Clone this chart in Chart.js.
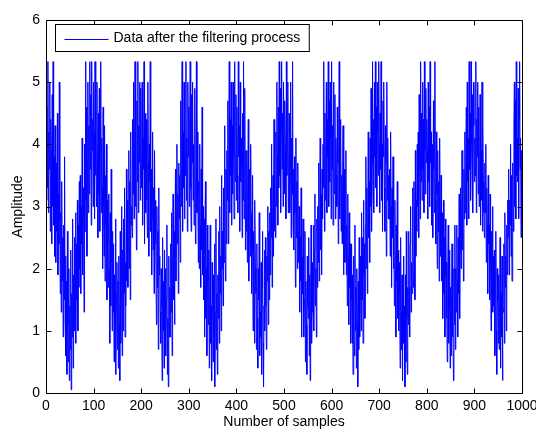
<!DOCTYPE html>
<html>
<head>
<meta charset="utf-8">
<script src="https://cdn.jsdelivr.net/npm/chart.js@4.4.1/dist/chart.umd.min.js"></script>
<style>
  html, body { margin: 0; padding: 0; background: #fff; }
  canvas { display: block; }
</style>
</head>
<body>
<canvas id="signalChart" width="536" height="431"></canvas>
<script>
// samples 1-100, 101-200, ... (rough estimates)
const block1 = [
  3.1, 4.6, 3.3, 5.33, 2.9, 4.2, 3.6, 5.0, 2.6, 4.4,
  3.9, 2.4, 4.8, 3.0, 5.33, 2.7, 3.8, 2.2, 4.3, 3.4,
  2.1, 3.7, 2.6, 4.5, 1.9, 3.2, 2.4, 5.0, 2.8, 1.6,
  2.9, 1.3, 3.4, 1.8, 2.5, 0.9, 2.7, 1.5, 3.8, 1.2,
  2.2, 0.6, 1.8, 0.3, 2.6, 1.1, 0.5, 2.0, 0.2, 1.4,
  0.7, 2.3, 0.05, 1.6, 0.9, 2.8, 0.4, 1.9, 1.0, 2.5,
  1.2, 2.9, 0.8, 2.4, 1.5, 3.1, 1.0, 2.7, 1.7, 3.4,
  2.0, 3.5, 1.6, 3.0, 2.4, 4.1, 1.9, 3.3, 2.8, 1.3,
  4.0, 2.6, 5.33, 3.1, 4.6, 2.2, 3.7, 5.0, 2.9, 4.3,
  3.2, 5.33, 3.6, 4.8, 2.7, 5.33, 3.9, 4.4, 3.0, 5.0
];
const block2 = [
  4.2, 2.8, 5.33, 3.5, 4.7, 3.0, 5.0, 3.8, 2.5, 4.5,
  3.2, 4.9, 2.6, 3.9, 5.33, 2.9, 4.1, 3.3, 2.0, 4.6,
  3.0, 2.2, 4.3, 1.8, 3.5, 2.7, 4.0, 1.5, 3.1, 2.4,
  1.7, 3.2, 2.0, 0.8, 2.9, 1.4, 3.6, 2.1, 1.0, 2.6,
  1.3, 2.4, 0.5, 1.9, 0.9, 2.8, 0.3, 1.6, 2.1, 0.7,
  1.8, 0.4, 2.2, 1.1, 0.2, 2.6, 0.8, 1.5, 3.0, 0.6,
  2.3, 1.0, 2.8, 1.6, 3.3, 0.9, 2.1, 1.4, 3.6, 1.8,
  3.1, 1.7, 2.5, 3.9, 2.0, 3.4, 1.5, 4.2, 2.7, 3.0,
  2.5, 4.4, 3.2, 5.0, 2.8, 3.9, 5.33, 3.0, 4.1, 2.3,
  4.7, 3.4, 5.33, 2.9, 4.3, 3.7, 5.0, 3.1, 4.9, 3.6
];
const block3 = [
  3.3, 5.0, 2.7, 4.1, 3.6, 5.33, 2.4, 4.5, 3.9, 2.9,
  4.4, 3.1, 2.5, 5.0, 3.7, 2.2, 4.0, 3.4, 5.33, 2.6,
  3.6, 1.9, 2.8, 4.2, 2.3, 3.3, 1.6, 3.9, 2.5, 3.1,
  2.4, 1.1, 3.0, 1.7, 2.6, 0.7, 3.3, 1.9, 2.2, 1.3,
  0.8, 2.0, 1.4, 0.2, 2.5, 1.0, 1.8, 0.4, 2.3, 1.2,
  2.0, 0.6, 1.5, 2.7, 0.3, 1.2, 0.1, 2.2, 0.9, 1.7,
  0.9, 2.4, 1.3, 2.9, 0.6, 2.0, 3.2, 1.5, 2.6, 1.1,
  2.2, 3.6, 1.8, 2.9, 4.0, 2.4, 3.2, 1.6, 3.7, 2.8,
  3.5, 2.1, 4.7, 3.0, 3.9, 5.33, 2.6, 4.2, 3.3, 5.0,
  2.8, 4.5, 3.5, 5.33, 3.1, 4.1, 2.6, 5.0, 3.8, 4.6
];
const block4 = [
  3.0, 4.4, 5.33, 3.3, 2.6, 4.8, 3.7, 5.0, 3.1, 4.0,
  2.7, 3.8, 4.9, 2.4, 3.5, 5.33, 2.9, 4.2, 3.2, 2.1,
  3.4, 2.0, 4.0, 2.7, 1.7, 3.6, 2.3, 4.6, 1.9, 3.0,
  1.5, 2.8, 0.9, 2.4, 3.4, 1.2, 2.0, 0.6, 2.7, 1.8,
  1.1, 2.3, 0.4, 1.7, 2.7, 0.8, 1.4, 0.2, 2.1, 1.5,
  0.5, 1.9, 1.0, 2.4, 0.1, 1.3, 2.8, 0.7, 1.6, 0.3,
  1.9, 1.2, 2.6, 0.8, 3.0, 1.6, 2.2, 1.0, 3.5, 2.0,
  2.6, 1.4, 3.3, 2.1, 4.3, 2.9, 1.8, 3.6, 2.4, 3.9,
  3.1, 4.7, 2.4, 3.8, 5.33, 2.9, 4.4, 3.5, 5.0, 2.7,
  4.3, 3.2, 5.0, 3.9, 2.8, 5.33, 4.0, 3.4, 4.8, 3.1
];
const block5 = [
  4.6, 3.5, 2.9, 5.33, 3.8, 4.3, 2.6, 5.0, 3.4, 4.1,
  3.7, 2.5, 4.5, 3.1, 5.33, 2.8, 3.6, 4.9, 2.3, 3.9,
  2.6, 3.9, 2.1, 3.3, 4.4, 1.8, 2.9, 3.6, 2.2, 4.0,
  2.9, 1.6, 2.3, 3.5, 1.0, 2.6, 1.9, 0.8, 3.1, 2.0,
  1.6, 0.7, 2.4, 1.2, 0.4, 2.0, 1.5, 2.9, 0.6, 1.3,
  0.9, 2.1, 0.3, 1.7, 2.6, 0.8, 0.1, 1.4, 2.3, 1.0,
  2.5, 1.4, 0.7, 2.2, 1.8, 3.0, 1.1, 2.6, 1.5, 2.9,
  1.9, 3.3, 2.5, 4.0, 1.7, 2.8, 3.5, 2.2, 4.4, 2.6,
  3.6, 2.5, 4.2, 3.0, 5.0, 3.8, 2.7, 4.6, 3.3, 5.33,
  3.5, 4.9, 2.9, 4.2, 5.33, 3.6, 4.5, 3.0, 5.0, 3.9
];
const block6 = [
  3.2, 4.7, 3.9, 2.8, 5.33, 3.5, 4.2, 5.0, 2.9, 3.7,
  4.5, 2.9, 3.4, 5.0, 2.5, 4.1, 3.2, 5.33, 2.7, 3.6,
  2.3, 3.8, 2.9, 1.7, 4.1, 2.5, 3.4, 2.0, 3.7, 2.6,
  2.1, 3.0, 1.3, 2.5, 1.8, 3.3, 0.9, 2.2, 1.6, 2.8,
  2.0, 0.9, 1.5, 2.6, 0.5, 1.8, 1.1, 0.3, 2.2, 1.4,
  1.2, 2.5, 0.6, 1.9, 0.2, 1.5, 2.7, 0.8, 1.3, 2.1,
  1.5, 2.7, 1.0, 2.3, 3.2, 1.4, 2.0, 0.9, 2.8, 1.7,
  3.0, 2.1, 3.7, 1.8, 2.6, 4.1, 2.3, 3.2, 1.9, 3.6,
  2.8, 4.0, 3.3, 5.33, 2.6, 4.5, 3.1, 3.9, 5.0, 2.9,
  4.4, 3.8, 5.33, 3.0, 4.7, 3.4, 5.0, 4.1, 2.8, 5.33
];
const block7 = [
  3.6, 4.3, 2.7, 5.0, 3.9, 3.2, 4.8, 2.8, 4.1, 3.5,
  3.0, 4.6, 3.7, 2.4, 4.0, 5.33, 2.8, 3.5, 4.4, 2.6,
  3.5, 2.4, 3.1, 4.3, 1.9, 2.8, 3.6, 2.1, 2.7, 3.9,
  1.9, 2.7, 1.4, 3.2, 2.2, 1.1, 2.9, 1.7, 2.4, 0.8,
  1.5, 2.4, 0.8, 1.9, 0.3, 2.2, 1.2, 0.6, 2.7, 1.0,
  1.7, 0.4, 2.0, 1.1, 0.1, 1.8, 0.7, 2.5, 0.9, 1.5,
  2.2, 1.0, 2.9, 1.5, 2.5, 0.8, 3.1, 1.9, 2.4, 1.2,
  2.7, 3.8, 2.0, 3.3, 1.6, 2.9, 4.2, 2.5, 3.4, 2.1,
  4.1, 3.0, 4.9, 2.6, 3.7, 5.33, 3.2, 4.4, 2.9, 5.0,
  3.8, 5.33, 3.3, 4.6, 3.0, 5.0, 4.2, 3.5, 5.33, 4.0
];
const block8 = [
  2.9, 4.5, 3.6, 5.33, 3.1, 4.0, 2.6, 4.7, 3.8, 5.0,
  3.3, 2.6, 4.3, 3.7, 2.2, 5.0, 3.1, 4.1, 2.8, 3.5,
  2.8, 3.6, 2.2, 4.2, 3.0, 1.7, 3.3, 2.5, 3.8, 2.0,
  2.5, 1.4, 3.1, 2.0, 0.9, 2.7, 1.8, 3.4, 1.2, 2.3,
  1.0, 2.1, 1.6, 0.4, 2.5, 1.3, 0.7, 1.9, 0.2, 1.5,
  2.2, 0.8, 1.4, 0.1, 1.9, 0.5, 2.6, 1.2, 0.3, 1.7,
  1.1, 2.6, 1.7, 0.9, 2.4, 3.0, 1.3, 2.1, 1.6, 3.3,
  2.4, 1.7, 3.4, 2.8, 1.5, 3.9, 2.2, 3.1, 2.6, 4.0,
  3.0, 4.2, 2.5, 4.8, 3.6, 2.8, 5.33, 3.4, 4.5, 3.1,
  5.0, 3.6, 4.4, 2.9, 5.33, 3.9, 3.2, 4.9, 3.7, 4.4
];
const block9 = [
  3.9, 2.8, 5.0, 3.4, 4.6, 3.0, 5.33, 3.7, 4.2, 2.7,
  4.0, 3.3, 2.5, 4.7, 3.6, 2.9, 5.33, 3.1, 2.4, 4.2,
  3.2, 2.0, 3.9, 2.6, 3.4, 1.8, 4.1, 2.9, 2.2, 3.5,
  1.8, 2.9, 2.3, 1.2, 3.1, 1.6, 2.5, 0.9, 2.8, 1.9,
  2.1, 1.2, 0.5, 1.9, 2.7, 0.8, 1.4, 2.3, 0.4, 1.7,
  0.6, 1.6, 2.4, 0.9, 1.3, 0.2, 2.0, 1.1, 2.7, 0.7,
  2.0, 1.3, 2.7, 1.8, 0.9, 2.5, 1.6, 3.2, 1.2, 2.3,
  3.3, 2.0, 2.7, 3.9, 2.3, 3.1, 1.8, 3.6, 2.8, 4.2,
  2.9, 3.7, 4.6, 2.7, 5.0, 3.4, 4.1, 2.8, 5.33, 3.6,
  4.5, 3.1, 5.33, 4.0, 3.5, 4.8, 2.9, 5.0, 4.3, 3.4
];
const block10 = [
  4.1, 3.5, 5.33, 2.9, 4.4, 3.8, 5.0, 3.2, 4.6, 3.0,
  3.6, 4.8, 2.7, 3.9, 3.1, 5.0, 2.6, 4.3, 3.4, 2.9,
  2.5, 3.7, 2.9, 4.0, 2.1, 3.3, 2.7, 1.6, 3.5, 2.4,
  2.7, 1.5, 3.2, 2.1, 1.0, 2.6, 1.7, 3.0, 1.3, 2.2,
  1.4, 2.3, 0.6, 1.8, 2.6, 1.0, 0.3, 2.0, 1.5, 0.8,
  1.9, 0.7, 1.3, 2.5, 0.4, 1.6, 0.9, 2.2, 0.2, 1.4,
  1.3, 2.4, 0.8, 2.9, 1.7, 2.2, 1.0, 2.7, 1.9, 3.1,
  2.5, 3.6, 1.9, 3.1, 2.7, 4.0, 2.2, 3.5, 1.8, 3.2,
  3.7, 2.6, 4.3, 5.0, 3.0, 4.7, 2.8, 5.33, 3.5, 4.1,
  3.4, 4.9, 2.8, 4.4, 5.33, 3.6, 4.1, 2.5, 3.9, 3.8
];

const xTicks = [0, 100, 200, 300, 400, 500, 600, 700, 800, 900, 1000];
const yTicks = [0, 1, 2, 3, 4, 5, 6];
const seriesLabel = "Data after the filtering process";
const xTitle = "Number of samples";
const yTitle = "Amplitude";

const amplitude = [].concat(block1, block2, block3, block4, block5,
  block6, block7, block8, block9, block10);

const FONT = "Arial, 'Liberation Sans', sans-serif";
const LINE_COLOR = "#0000ff";
const TICK_LEN = 5;

// matlab style box: full frame, inward ticks on all sides, boxed legend
const matlabAxes = {
  id: "matlabAxes",
  afterDatasetsDraw(chart) {
    const { ctx, chartArea: a, scales } = chart;
    ctx.save();
    ctx.strokeStyle = "#000";
    ctx.lineWidth = 1;
    ctx.beginPath();
    const l = Math.round(a.left) + 0.5;
    const r = Math.round(a.right) + 0.5;
    const t = Math.round(a.top) + 0.5;
    const b = Math.round(a.bottom) + 0.5;
    ctx.rect(l, t, r - l, b - t);

    xTicks.forEach(v => {
      const x = Math.round(scales.x.getPixelForValue(v)) + 0.5;
      ctx.moveTo(x, b);
      ctx.lineTo(x, b - TICK_LEN);
      ctx.moveTo(x, t);
      ctx.lineTo(x, t + TICK_LEN);
    });
    yTicks.forEach(v => {
      const y = Math.round(scales.y.getPixelForValue(v)) + 0.5;
      ctx.moveTo(l, y);
      ctx.lineTo(l + TICK_LEN, y);
      ctx.moveTo(r, y);
      ctx.lineTo(r - TICK_LEN, y);
    });
    ctx.stroke();

    // legend
    const label = chart.data.datasets[0].label;
    ctx.font = `14px ${FONT}`;
    const tw = ctx.measureText(label).width;
    const bx = l + 9, by = t + 4;
    const bw = 58 + tw + 9, bh = 27;
    ctx.fillStyle = "#fff";
    ctx.fillRect(bx, by, bw, bh);
    ctx.strokeStyle = "#000";
    ctx.strokeRect(bx, by, bw, bh);

    ctx.beginPath();
    ctx.strokeStyle = LINE_COLOR;
    ctx.moveTo(bx + 9, by + 15);
    ctx.lineTo(bx + 53, by + 15);
    ctx.stroke();

    ctx.fillStyle = "#000";
    ctx.textBaseline = "middle";
    ctx.textAlign = "left";
    ctx.fillText(label, bx + 58, by + 14);
    ctx.restore();
  }
};

function initChart() {
  const ctx = document.getElementById("signalChart").getContext("2d");

  Chart.defaults.font.family = FONT;
  Chart.defaults.font.size = 14;
  Chart.defaults.color = "#000";

  new Chart(ctx, {
    type: "line",
    data: {
      datasets: [
        {
          label: seriesLabel,
          data: amplitude.map((v, i) => ({ x: i + 1, y: v })),
          borderColor: LINE_COLOR,
          borderWidth: 1,
          pointRadius: 0,
          tension: 0
        }
      ]
    },
    options: {
      responsive: false,
      animation: false,
      layout: { padding: { top: 20, right: 14, left: 0, bottom: 0 } },
      plugins: {
        legend: { display: false },
        tooltip: { enabled: false }
      },
      scales: {
        x: {
          type: "linear",
          min: 0,
          max: 1000,
          afterBuildTicks: s => { s.ticks = xTicks.map(v => ({ value: v })); },
          afterFit: s => {
            s.height = 38;
            s.paddingLeft = 0;
            s.paddingRight = 0;
          },
          grid: { display: false, drawTicks: false },
          border: { display: false },
          ticks: { padding: 5, maxRotation: 0, autoSkip: false, callback: v => String(v) },
          title: { display: true, text: xTitle, padding: { top: 0, bottom: 0 } }
        },
        y: {
          type: "linear",
          min: 0,
          max: 6,
          afterBuildTicks: s => { s.ticks = yTicks.map(v => ({ value: v })); },
          afterFit: s => {
            s.width = 46;
            s.paddingTop = 0;
            s.paddingBottom = 0;
          },
          grid: { display: false, drawTicks: false },
          border: { display: false },
          ticks: { padding: 6, callback: v => String(v) },
          title: { display: true, text: yTitle, padding: { top: 10, bottom: 0 } }
        }
      }
    },
    plugins: [matlabAxes]
  });
}

document.addEventListener("DOMContentLoaded", initChart);
</script>
</body>
</html>
